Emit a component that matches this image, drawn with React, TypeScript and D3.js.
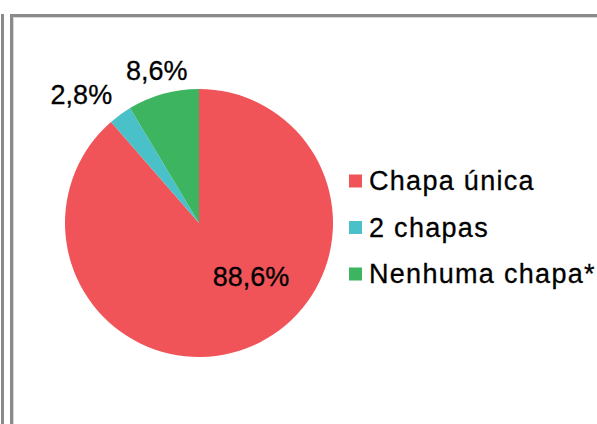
import React from "react";
import * as d3 from "d3";

const categories = ["Chapa única", "2 chapas", "Nenhuma chapa*"];
const values = [88.6, 2.8, 8.6];
const labels = ["88,6%", "2,8%", "8,6%"];
const colors = ["#F05459", "#4AC0C8", "#3DB460"];

const W = 597;
const H = 424;
const cx = 199;
const cy = 223;
const R = 134;

export default function App() {
  const pie = d3.pie<number>().value((d) => d).sort(null).startAngle(0).endAngle(2 * Math.PI);
  const arcs = pie(values);
  const arc = d3.arc<d3.PieArcDatum<number>>().innerRadius(0).outerRadius(R);
  const outerArc = d3.arc<d3.PieArcDatum<number>>().innerRadius(158 * 2).outerRadius(0);
  // label placement styles
  const labelStyle = [
    { mode: "inner", dx: 52, dy: 54, anchor: "middle" },
    { mode: "outer", dx: 6, dy: 0, anchor: "end" },
    { mode: "outer", dx: 0, dy: 0, anchor: "middle" },
  ];
  const legendY = d3.scalePoint<string>().domain(categories).range([181, 274]);

  return (
    <div style={{ position: "fixed", left: 0, top: 0, width: W, height: H, background: "#fff" }}>
      <svg width={W} height={H} style={{ display: "block" }}>
        <rect x={0} y={0} width={W} height={H} fill="#fff" />
        <line x1={2.5} y1={14} x2={2.5} y2={H} stroke="#8a8a8a" strokeWidth={3} />
        <path d={`M11.5,${H} V15.5 H${W}`} fill="none" stroke="#8a8a8a" strokeWidth={3} />
        <path d={`M13.5,${H} V17.5 H${W}`} fill="none" stroke="#d8d8d8" strokeWidth={1} />
        <g transform={`translate(${cx},${cy})`}>
          {arcs.map((a, i) => (
            <path key={i} d={arc(a) || ""} fill={colors[i]} />
          ))}
          {arcs.map((a, i) => {
            const s = labelStyle[i];
            let x: number, y: number;
            if (s.mode === "inner") {
              [x, y] = [0, 0];
            } else {
              [x, y] = outerArc.centroid(a);
            }
            return (
              <text
                key={i}
                x={x + s.dx}
                y={y + s.dy}
                textAnchor={s.anchor as any}
                dominantBaseline="central"
                fontFamily="'Liberation Sans', Arial, sans-serif"
                fontSize={27}
                fill="#000"
                stroke="#000"
                strokeWidth={0.3}
              >
                {labels[i]}
              </text>
            );
          })}
        </g>
        <g>
          {categories.map((c, i) => (
            <g key={c} transform={`translate(349,${legendY(c)})`}>
              <rect x={0} y={-6.5} width={13} height={13} fill={colors[i]} />
              <text
                x={20}
                y={0}
                dominantBaseline="central"
                fontFamily="'Liberation Sans', Arial, sans-serif"
                fontSize={27}
                letterSpacing={1.3}
                fill="#000"
                stroke="#000"
                strokeWidth={0.3}
              >
                {c}
              </text>
            </g>
          ))}
        </g>
      </svg>
    </div>
  );
}
